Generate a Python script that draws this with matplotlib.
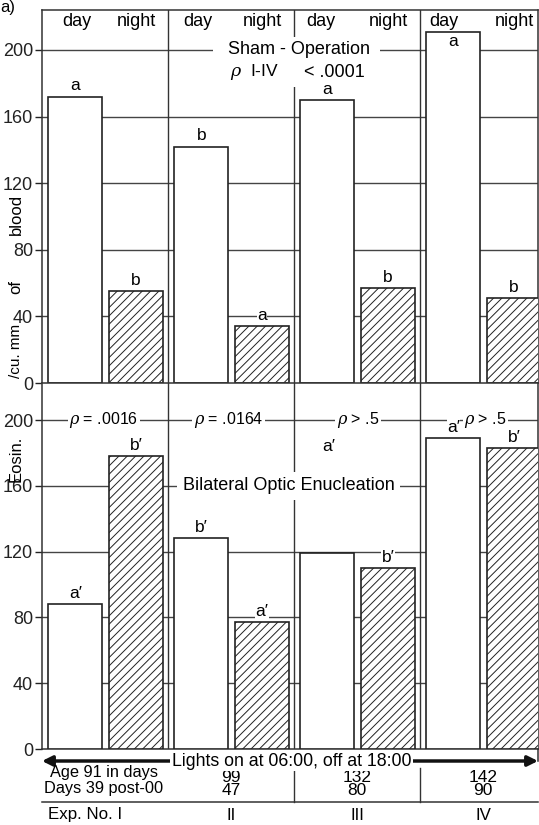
import matplotlib
matplotlib.use("Agg")
import matplotlib.pyplot as plt
import numpy as np

plt.rcParams['font.family'] = ['Liberation Sans', 'DejaVu Sans']
plt.rcParams['hatch.linewidth'] = 0.7
plt.rcParams['mathtext.fontset'] = 'dejavuserif'

# ---------------- data ----------------
experiments = ["I", "II", "III", "IV"]
sham_day = [172, 142, 170, 211]
sham_night = [55, 34, 57, 51]
sham_day_letters = ["a", "b", "a", "a"]
sham_night_letters = ["b", "a", "b", "b"]
enuc_day = [88, 128, 119, 189]
enuc_night = [178, 77, 110, 183]
enuc_day_letters = ["a′", "b′", "a′", "a′"]
enuc_night_letters = ["b′", "a′", "b′", "b′"]
enuc_p = ["= .0016", "= .0164", "> .5", "> .5"]
ages = [91, 99, 132, 142]
days_post = [39, 47, 80, 90]
yticks = [0, 40, 80, 120, 160, 200]

W, H = 539, 825
fig = plt.figure(figsize=(W / 100, H / 100), dpi=100)

def fx(px):
    return px / W

def fy(py):
    return 1 - py / H

L, R = 42, 538
xmax = (R - L) / 126.0
ax_top = fig.add_axes([fx(L), fy(383), fx(R - L), (383 - 10) / H])
ax_bot = fig.add_axes([fx(L), fy(749), fx(R - L), (749 - 383) / H])
ax_inf = fig.add_axes([fx(L), 0, fx(R - L), (825 - 749) / H])

WB = dict(facecolor='white', edgecolor='none')

ax_top.set_ylim(0, 224)
ax_bot.set_ylim(0, 222.5)
for ax in (ax_top, ax_bot):
    ax.set_xlim(0, xmax)
    ax.set_xticks([])
    ax.set_yticks(yticks)
    ax.set_yticklabels([str(v) for v in yticks], fontsize=13)
    ax.tick_params(axis='y', direction='out', length=5, width=1, pad=1.5, colors='#222')
    for s in ax.spines.values():
        s.set_color('#333')
        s.set_linewidth(1.1)
    for v in yticks[1:]:
        ax.axhline(v, color='#444', lw=1.0, zorder=1)
    for xs in (1, 2, 3):
        ax.axvline(xs, color='#333', lw=1.0, zorder=1)

ax_top.spines['bottom'].set_visible(False)

xi = np.arange(4)
day_x = xi + 0.265
night_x = xi + 0.745
bw = 0.43

def draw(ax, day, night):
    ax.bar(day_x, day, width=bw, facecolor='white', edgecolor='#222', lw=1.2, zorder=3)
    ax.bar(night_x, night, width=bw, facecolor='white', edgecolor='#222', lw=1.2,
           hatch='////', zorder=3)

draw(ax_top, sham_day, sham_night)
draw(ax_bot, enuc_day, enuc_night)

lbl = dict(fontsize=12.5, ha='center', zorder=7, bbox=dict(pad=0.3, **WB))

# top letters
for i in range(4):
    if i == 3:
        ax_top.text(day_x[i], sham_day[i] - 1.5, sham_day_letters[i], va='top', **lbl)
    else:
        ax_top.text(day_x[i], sham_day[i] + 2, sham_day_letters[i], va='bottom', **lbl)
    ax_top.text(night_x[i], sham_night[i] + 2, sham_night_letters[i], va='bottom', **lbl)

# bottom letters
for i in range(4):
    if i == 2:
        ax_bot.text(day_x[i] + 0.01, 184, enuc_day_letters[i], va='center', **lbl)
    else:
        ax_bot.text(day_x[i], enuc_day[i] + 2, enuc_day_letters[i], va='bottom', **lbl)
    ax_bot.text(night_x[i], enuc_night[i] + 2, enuc_night_letters[i], va='bottom', **lbl)

# header day/night
day_off = [0.278, 0.238, 0.21, 0.19]
for i in range(4):
    ax_top.text(i + day_off[i], 216.8, "day", fontsize=13, ha='center', va='center', zorder=5,
                bbox=dict(pad=0.3, **WB) if i == 3 else None)
    ax_top.text(i + 0.75, 216.8, "night", fontsize=13, ha='center', va='center', zorder=5)

# Sham titles (white panel hides the grid and separator behind them)
ax_top.fill_between([1.357, 2.68], 178, 207.5, color='white', zorder=2, lw=0)
ax_top.text(2.04, 200, "Sham - Operation", fontsize=13, ha='center', va='center', zorder=6)
ax_top.text(1.69, 186.5, r"$\rho$  I-IV", fontsize=12.5, ha='center', va='center', zorder=6)
ax_top.text(2.32, 186.5, "< .0001", fontsize=13, ha='center', va='center', zorder=6)

# enucleation p-values
p_x = [0.49, 1.48, 2.51, 3.52]
for i in range(4):
    ax_bot.text(p_x[i], 200, r"$\rho$ " + enuc_p[i], fontsize=11.5, ha='center', va='center',
                zorder=6, bbox=dict(pad=1.2, **WB))
ax_bot.text(1.96, 160, "Bilateral Optic Enucleation", fontsize=13, ha='center', va='center',
            zorder=6, bbox=dict(pad=4, **WB))

# y label pieces
for word, py, fs in (("blood", 214, 12), ("of", 287, 12), ("/cu. mm", 351, 11),
                     ("Eosin.", 459, 12)):
    fig.text(fx(16), fy(py), word, rotation=90, fontsize=fs, ha='center', va='center')

fig.text(0.0, 1.0, "a)", fontsize=12, ha='left', va='top')

# info region
ax_inf.set_xlim(0, xmax)
ax_inf.set_ylim(825 - 749, 0)
ax_inf.axis('off')
ax_inf.annotate("", xy=(0.0, 12), xytext=(xmax, 12),
                arrowprops=dict(arrowstyle='<|-|>', lw=2.5, color='#111',
                                mutation_scale=15, shrinkA=0, shrinkB=0))
ax_inf.text(1.98, 12, "Lights on at 06:00, off at 18:00", fontsize=12.8, ha='center',
            va='center', bbox=dict(pad=1.0, **WB), zorder=5)
ax_inf.text(0.49, 23.5, "Age " + str(ages[0]) + " in days", fontsize=11.8, ha='center', va='center')
ax_inf.text(0.49, 39, "Days " + str(days_post[0]) + " post-00", fontsize=11.8, ha='center', va='center')
for i in range(1, 4):
    ax_inf.text(i + 0.5, 28, str(ages[i]), fontsize=12.5, ha='center', va='center')
    ax_inf.text(i + 0.5, 41.5, str(days_post[i]), fontsize=12.5, ha='center', va='center')
ax_inf.plot([0, xmax], [53, 53], color='#333', lw=1.1, clip_on=False)
for xs in (2, 3):
    ax_inf.plot([xs, xs], [19, 53], color='#333', lw=1.0)
ax_inf.plot([xmax, xmax], [0, 12], color='#333', lw=1.1, clip_on=False)
ax_inf.text(0.34, 66, "Exp. No. " + experiments[0], fontsize=12.2, ha='center', va='center')
for i in range(1, 4):
    ax_inf.text(i + 0.5, 66, experiments[i], fontsize=12.2, ha='center', va='center')

fig.savefig("out.png", dpi=100)
